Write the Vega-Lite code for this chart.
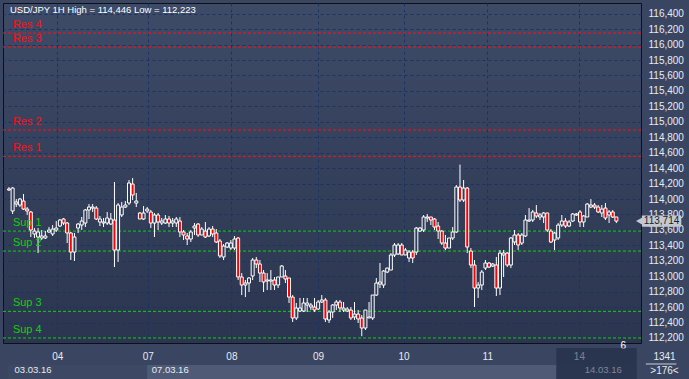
{
  "$schema": "https://vega.github.io/schema/vega-lite/v6.json",
  "width": 638,
  "height": 340,
  "autosize": "none",
  "padding": {"left": 3, "top": 3, "right": 48, "bottom": 36},
  "background": "#3a4661",
  "config": {
    "view": {
      "fill": {"gradient": "linear", "x1": 0, "y1": 0, "x2": 0, "y2": 1, "stops": [{"offset": 0, "color": "#3e4b67"}, {"offset": 1, "color": "#2b354f"}]},
      "stroke": "#0e1018",
      "strokeWidth": 1
    }
  },
  "datasets": {
    "candles": [
      {"t":0,"o":114.130,"h":114.155,"l":114.104,"c":114.117},
      {"t":1,"o":113.845,"h":114.155,"l":113.806,"c":114.142},
      {"t":2,"o":113.935,"h":114.000,"l":113.896,"c":113.961},
      {"t":3,"o":113.922,"h":114.013,"l":113.896,"c":114.000},
      {"t":4,"o":113.974,"h":114.065,"l":113.858,"c":113.870},
      {"t":5,"o":113.870,"h":113.896,"l":113.793,"c":113.845},
      {"t":6,"o":113.832,"h":113.845,"l":113.508,"c":113.598},
      {"t":7,"o":113.547,"h":113.624,"l":113.495,"c":113.585},
      {"t":8,"o":113.508,"h":113.624,"l":113.300,"c":113.573},
      {"t":9,"o":113.495,"h":113.598,"l":113.469,"c":113.521},
      {"t":10,"o":113.495,"h":113.585,"l":113.482,"c":113.521},
      {"t":11,"o":113.573,"h":113.637,"l":113.560,"c":113.598},
      {"t":12,"o":113.547,"h":113.663,"l":113.521,"c":113.611},
      {"t":13,"o":113.598,"h":113.715,"l":113.573,"c":113.624},
      {"t":14,"o":113.650,"h":113.741,"l":113.637,"c":113.728},
      {"t":15,"o":113.741,"h":113.754,"l":113.663,"c":113.689},
      {"t":16,"o":113.689,"h":113.702,"l":113.430,"c":113.560},
      {"t":17,"o":113.560,"h":113.573,"l":113.210,"c":113.313},
      {"t":18,"o":113.313,"h":113.560,"l":113.197,"c":113.508},
      {"t":19,"o":113.624,"h":113.689,"l":113.560,"c":113.676},
      {"t":20,"o":113.663,"h":113.767,"l":113.598,"c":113.715},
      {"t":21,"o":113.689,"h":113.870,"l":113.637,"c":113.858},
      {"t":22,"o":113.858,"h":113.935,"l":113.741,"c":113.896},
      {"t":23,"o":113.883,"h":113.935,"l":113.832,"c":113.896},
      {"t":24,"o":113.883,"h":113.909,"l":113.728,"c":113.741},
      {"t":25,"o":113.702,"h":113.780,"l":113.650,"c":113.741},
      {"t":26,"o":113.689,"h":113.754,"l":113.637,"c":113.702},
      {"t":27,"o":113.689,"h":113.832,"l":113.663,"c":113.754},
      {"t":28,"o":113.676,"h":113.819,"l":113.663,"c":113.741},
      {"t":29,"o":113.728,"h":114.220,"l":113.119,"c":113.339},
      {"t":30,"o":113.339,"h":113.948,"l":113.184,"c":113.922},
      {"t":31,"o":113.793,"h":113.961,"l":113.767,"c":113.896},
      {"t":32,"o":113.896,"h":113.974,"l":113.883,"c":113.922},
      {"t":33,"o":113.948,"h":114.246,"l":113.922,"c":114.207},
      {"t":34,"o":114.194,"h":114.272,"l":113.987,"c":114.052},
      {"t":35,"o":113.948,"h":114.078,"l":113.896,"c":113.974},
      {"t":36,"o":113.819,"h":113.832,"l":113.741,"c":113.741},
      {"t":37,"o":113.741,"h":113.909,"l":113.728,"c":113.819},
      {"t":38,"o":113.845,"h":113.896,"l":113.819,"c":113.870},
      {"t":39,"o":113.832,"h":113.858,"l":113.624,"c":113.689},
      {"t":40,"o":113.689,"h":113.819,"l":113.508,"c":113.793},
      {"t":41,"o":113.793,"h":113.819,"l":113.598,"c":113.702},
      {"t":42,"o":113.689,"h":113.754,"l":113.663,"c":113.715},
      {"t":43,"o":113.689,"h":113.793,"l":113.676,"c":113.741},
      {"t":44,"o":113.741,"h":113.780,"l":113.637,"c":113.689},
      {"t":45,"o":113.689,"h":113.754,"l":113.637,"c":113.715},
      {"t":46,"o":113.689,"h":113.767,"l":113.637,"c":113.741},
      {"t":47,"o":113.715,"h":113.767,"l":113.508,"c":113.573},
      {"t":48,"o":113.573,"h":113.598,"l":113.469,"c":113.534},
      {"t":49,"o":113.521,"h":113.560,"l":113.404,"c":113.482},
      {"t":50,"o":113.482,"h":113.598,"l":113.443,"c":113.573},
      {"t":51,"o":113.624,"h":113.689,"l":113.534,"c":113.650},
      {"t":52,"o":113.676,"h":113.689,"l":113.508,"c":113.534},
      {"t":53,"o":113.534,"h":113.637,"l":113.534,"c":113.611},
      {"t":54,"o":113.585,"h":113.702,"l":113.495,"c":113.508},
      {"t":55,"o":113.521,"h":113.637,"l":113.508,"c":113.611},
      {"t":56,"o":113.611,"h":113.650,"l":113.508,"c":113.547},
      {"t":57,"o":113.560,"h":113.611,"l":113.430,"c":113.443},
      {"t":58,"o":113.456,"h":113.482,"l":113.236,"c":113.262},
      {"t":59,"o":113.249,"h":113.417,"l":113.210,"c":113.391},
      {"t":60,"o":113.378,"h":113.443,"l":113.365,"c":113.430},
      {"t":61,"o":113.365,"h":113.469,"l":113.339,"c":113.430},
      {"t":62,"o":113.365,"h":113.521,"l":113.339,"c":113.482},
      {"t":63,"o":113.495,"h":113.508,"l":112.951,"c":112.990},
      {"t":64,"o":112.990,"h":113.041,"l":112.756,"c":112.886},
      {"t":65,"o":112.886,"h":112.951,"l":112.730,"c":112.912},
      {"t":66,"o":112.912,"h":112.990,"l":112.795,"c":112.977},
      {"t":67,"o":113.003,"h":113.236,"l":112.951,"c":113.210},
      {"t":68,"o":113.210,"h":113.249,"l":113.106,"c":113.158},
      {"t":69,"o":113.158,"h":113.210,"l":112.925,"c":113.041},
      {"t":70,"o":113.041,"h":113.080,"l":112.795,"c":112.925},
      {"t":71,"o":112.938,"h":113.041,"l":112.821,"c":112.951},
      {"t":72,"o":112.938,"h":113.080,"l":112.821,"c":112.951},
      {"t":73,"o":112.951,"h":112.990,"l":112.821,"c":112.886},
      {"t":74,"o":112.886,"h":112.990,"l":112.847,"c":112.990},
      {"t":75,"o":112.990,"h":113.145,"l":112.990,"c":113.132},
      {"t":76,"o":113.003,"h":113.080,"l":112.912,"c":112.964},
      {"t":77,"o":112.977,"h":112.977,"l":112.653,"c":112.730},
      {"t":78,"o":112.730,"h":112.756,"l":112.407,"c":112.459},
      {"t":79,"o":112.459,"h":112.653,"l":112.433,"c":112.588},
      {"t":80,"o":112.549,"h":112.718,"l":112.536,"c":112.588},
      {"t":81,"o":112.549,"h":112.718,"l":112.536,"c":112.653},
      {"t":82,"o":112.627,"h":112.718,"l":112.536,"c":112.653},
      {"t":83,"o":112.601,"h":112.653,"l":112.562,"c":112.627},
      {"t":84,"o":112.601,"h":112.718,"l":112.536,"c":112.562},
      {"t":85,"o":112.575,"h":112.692,"l":112.562,"c":112.666},
      {"t":86,"o":112.666,"h":112.756,"l":112.653,"c":112.692},
      {"t":87,"o":112.692,"h":112.718,"l":112.407,"c":112.446},
      {"t":88,"o":112.433,"h":112.562,"l":112.394,"c":112.536},
      {"t":89,"o":112.536,"h":112.640,"l":112.459,"c":112.627},
      {"t":90,"o":112.627,"h":112.692,"l":112.562,"c":112.666},
      {"t":91,"o":112.666,"h":112.692,"l":112.536,"c":112.588},
      {"t":92,"o":112.562,"h":112.666,"l":112.536,"c":112.588},
      {"t":93,"o":112.549,"h":112.601,"l":112.536,"c":112.575},
      {"t":94,"o":112.562,"h":112.601,"l":112.433,"c":112.459},
      {"t":95,"o":112.472,"h":112.666,"l":112.433,"c":112.510},
      {"t":96,"o":112.510,"h":112.562,"l":112.394,"c":112.446},
      {"t":97,"o":112.459,"h":112.497,"l":112.223,"c":112.329},
      {"t":98,"o":112.329,"h":112.562,"l":112.303,"c":112.562},
      {"t":99,"o":112.459,"h":112.666,"l":112.459,"c":112.472},
      {"t":100,"o":112.459,"h":112.756,"l":112.433,"c":112.756},
      {"t":101,"o":112.756,"h":112.977,"l":112.743,"c":112.912},
      {"t":102,"o":112.899,"h":113.171,"l":112.847,"c":112.925},
      {"t":103,"o":112.886,"h":113.080,"l":112.847,"c":113.067},
      {"t":104,"o":113.054,"h":113.106,"l":113.041,"c":113.106},
      {"t":105,"o":113.080,"h":113.300,"l":113.080,"c":113.275},
      {"t":106,"o":113.275,"h":113.430,"l":113.249,"c":113.404},
      {"t":107,"o":113.288,"h":113.430,"l":113.275,"c":113.404},
      {"t":108,"o":113.404,"h":113.430,"l":113.275,"c":113.275},
      {"t":109,"o":113.275,"h":113.365,"l":113.275,"c":113.339},
      {"t":110,"o":113.236,"h":113.339,"l":113.184,"c":113.313},
      {"t":111,"o":113.313,"h":113.339,"l":113.171,"c":113.236},
      {"t":112,"o":113.313,"h":113.637,"l":113.275,"c":113.624},
      {"t":113,"o":113.585,"h":113.637,"l":113.573,"c":113.624},
      {"t":114,"o":113.598,"h":113.793,"l":113.573,"c":113.767},
      {"t":115,"o":113.754,"h":113.806,"l":113.702,"c":113.767},
      {"t":116,"o":113.767,"h":113.767,"l":113.663,"c":113.728},
      {"t":117,"o":113.741,"h":113.754,"l":113.598,"c":113.637},
      {"t":118,"o":113.650,"h":113.702,"l":113.482,"c":113.585},
      {"t":119,"o":113.585,"h":113.598,"l":113.404,"c":113.430},
      {"t":120,"o":113.430,"h":113.534,"l":113.339,"c":113.365},
      {"t":121,"o":113.365,"h":113.495,"l":113.365,"c":113.495},
      {"t":122,"o":113.495,"h":113.637,"l":113.469,"c":113.573},
      {"t":123,"o":113.573,"h":114.181,"l":113.560,"c":114.155},
      {"t":124,"o":114.155,"h":114.446,"l":113.961,"c":113.987},
      {"t":125,"o":113.987,"h":114.246,"l":113.961,"c":114.142},
      {"t":126,"o":114.142,"h":114.155,"l":113.300,"c":113.378},
      {"t":127,"o":113.326,"h":113.365,"l":113.106,"c":113.145},
      {"t":128,"o":113.145,"h":113.210,"l":112.601,"c":112.847},
      {"t":129,"o":112.847,"h":112.925,"l":112.718,"c":112.886},
      {"t":130,"o":112.886,"h":113.080,"l":112.821,"c":113.054},
      {"t":131,"o":113.106,"h":113.210,"l":113.080,"c":113.171},
      {"t":132,"o":113.171,"h":113.184,"l":113.106,"c":113.119},
      {"t":133,"o":113.132,"h":113.171,"l":113.119,"c":113.158},
      {"t":134,"o":113.145,"h":113.249,"l":112.743,"c":112.847},
      {"t":135,"o":112.847,"h":113.339,"l":112.756,"c":113.300},
      {"t":136,"o":113.275,"h":113.339,"l":112.990,"c":113.300},
      {"t":137,"o":113.300,"h":113.313,"l":113.119,"c":113.145},
      {"t":138,"o":113.145,"h":113.508,"l":113.106,"c":113.495},
      {"t":139,"o":113.443,"h":113.598,"l":113.404,"c":113.534},
      {"t":140,"o":113.534,"h":113.560,"l":113.339,"c":113.404},
      {"t":141,"o":113.430,"h":113.560,"l":113.404,"c":113.534},
      {"t":142,"o":113.521,"h":113.793,"l":113.508,"c":113.728},
      {"t":143,"o":113.715,"h":113.883,"l":113.702,"c":113.728},
      {"t":144,"o":113.728,"h":113.858,"l":113.702,"c":113.832},
      {"t":145,"o":113.819,"h":113.922,"l":113.754,"c":113.780},
      {"t":146,"o":113.767,"h":113.819,"l":113.728,"c":113.793},
      {"t":147,"o":113.767,"h":113.832,"l":113.689,"c":113.819},
      {"t":148,"o":113.819,"h":113.819,"l":113.573,"c":113.598},
      {"t":149,"o":113.585,"h":113.611,"l":113.430,"c":113.443},
      {"t":150,"o":113.469,"h":113.573,"l":113.339,"c":113.560},
      {"t":151,"o":113.495,"h":113.689,"l":113.469,"c":113.663},
      {"t":152,"o":113.663,"h":113.793,"l":113.637,"c":113.715},
      {"t":153,"o":113.715,"h":113.754,"l":113.624,"c":113.650},
      {"t":154,"o":113.650,"h":113.728,"l":113.637,"c":113.702},
      {"t":155,"o":113.715,"h":113.819,"l":113.702,"c":113.806},
      {"t":156,"o":113.793,"h":113.819,"l":113.780,"c":113.806},
      {"t":157,"o":113.832,"h":113.858,"l":113.637,"c":113.702},
      {"t":158,"o":113.702,"h":113.793,"l":113.637,"c":113.780},
      {"t":159,"o":113.767,"h":113.948,"l":113.767,"c":113.935},
      {"t":160,"o":113.896,"h":114.000,"l":113.883,"c":113.922},
      {"t":161,"o":113.922,"h":113.948,"l":113.870,"c":113.896},
      {"t":162,"o":113.896,"h":113.922,"l":113.819,"c":113.832},
      {"t":163,"o":113.819,"h":113.922,"l":113.767,"c":113.870},
      {"t":164,"o":113.883,"h":113.948,"l":113.728,"c":113.754},
      {"t":165,"o":113.793,"h":113.858,"l":113.689,"c":113.832},
      {"t":166,"o":113.832,"h":113.858,"l":113.754,"c":113.767},
      {"t":167,"o":113.767,"h":113.767,"l":113.689,"c":113.714}
    ],
    "levels": [
      {"name":"Res 4","p":116.150,"k":"res"},
      {"name":"Res 3","p":115.969,"k":"res"},
      {"name":"Res 2","p":114.894,"k":"res"},
      {"name":"Res 1","p":114.553,"k":"res"},
      {"name":"Sup 1","p":113.585,"k":"sup"},
      {"name":"Sup 2","p":113.326,"k":"sup"},
      {"name":"Sup 3","p":112.545,"k":"sup"},
      {"name":"Sup 4","p":112.200,"k":"sup"}
    ]
  },
  "layer": [
    {
      "data": {"values": [{}]},
      "mark": {"type": "rect", "color": "#3d4964"},
      "encoding": {
        "x": {"datum": -0.27, "type": "quantitative"},
        "x2": {"datum": 172.4},
        "y": {"datum": 111.850, "type": "quantitative"},
        "y2": {"datum": 111.668}
      }
    },
    {
      "data": {"values": [{}]},
      "mark": {"type": "rect", "color": "#4f5b76"},
      "encoding": {
        "x": {"datum": 38.0, "type": "quantitative"},
        "x2": {"datum": 150.5},
        "y": {"datum": 111.850, "type": "quantitative"},
        "y2": {"datum": 111.668}
      }
    },
    {
      "data": {"name": "levels"},
      "mark": {"type": "rule", "strokeDash": [3, 2], "strokeWidth": 1},
      "encoding": {
        "y": {"field": "p", "type": "quantitative"},
        "color": {"field": "k", "type": "nominal", "scale": {"domain": ["res", "sup"], "range": ["#ff1010", "#10d010"]}, "legend": null}
      }
    },
    {
      "data": {"name": "candles"},
      "mark": {"type": "rule", "color": "#ffffff", "strokeWidth": 1},
      "encoding": {
        "x": {
          "field": "t", "type": "quantitative",
          "scale": {"domain": [-0.27, 172.4], "nice": false, "zero": false},
          "axis": {
            "title": null, "zindex": 0,
            "values": [13.26, 38.16, 61.16, 84.98, 108.5, 131.5, 156.7],
            "tickCount": 40,
            "labelExpr": "datum.value < 20 ? '04' : datum.value < 50 ? '07' : datum.value < 70 ? '08' : datum.value < 95 ? '09' : datum.value < 120 ? '10' : datum.value < 140 ? '11' : '14'",
            "grid": true, "gridColor": "#1a3264", "gridDash": [3, 3], "gridWidth": 1,
            "domain": false, "ticks": false, "labelOverlap": false,
            "labelColor": "#e8ebf0", "labelFont": "Liberation Sans", "labelFontSize": 10,
            "labelPadding": 8, "labelAngle": 0
          }
        },
        "y": {
          "field": "l", "type": "quantitative",
          "scale": {"domain": [112.135, 116.539], "nice": false, "zero": false},
          "axis": {
            "title": null, "orient": "right", "zindex": 0,
            "values": [112.2, 112.4, 112.6, 112.8, 113.0, 113.2, 113.4, 113.6, 113.8, 114.0, 114.2, 114.4, 114.6, 114.8, 115.0, 115.2, 115.4, 115.6, 115.8, 116.0, 116.2, 116.4],
            "tickCount": 40,
            "labelExpr": "replace(format(datum.value, '.3f'), '.', ',')",
            "grid": true, "gridColor": "#1a3264", "gridDash": [3, 3], "gridWidth": 1,
            "domain": false, "ticks": false, "labelOverlap": false,
            "labelColor": "#e8ebf0", "labelFont": "Liberation Sans", "labelFontSize": 10,
            "labelPadding": 7
          }
        },
        "y2": {"field": "h"}
      }
    },
    {
      "data": {"name": "candles"},
      "mark": {"type": "bar", "size": 3, "stroke": "#ffffff", "strokeWidth": 1},
      "encoding": {
        "x": {"field": "t", "type": "quantitative"},
        "y": {"field": "o", "type": "quantitative"},
        "y2": {"field": "c"},
        "fill": {"condition": {"test": "datum.c < datum.o", "value": "#ff0000"}, "value": "#313d58"}
      }
    },
    {
      "data": {"name": "levels"},
      "mark": {"type": "text", "align": "left", "baseline": "bottom", "dy": -3, "font": "Liberation Sans", "fontSize": 11},
      "encoding": {
        "x": {"datum": 1.08, "type": "quantitative"},
        "y": {"field": "p", "type": "quantitative"},
        "text": {"field": "name"},
        "color": {"field": "k", "type": "nominal", "legend": null}
      }
    },
    {
      "data": {"values": [{"txt": "USD/JPY 1H High = 114,446 Low = 112,223"}]},
      "mark": {"type": "text", "align": "left", "baseline": "middle", "color": "#ffffff", "font": "Liberation Sans", "fontSize": 9.5},
      "encoding": {
        "x": {"datum": 0.27, "type": "quantitative"},
        "y": {"datum": 116.448, "type": "quantitative"},
        "text": {"field": "txt"}
      }
    },
    {
      "data": {"values": [{"txt": "6"}]},
      "mark": {"type": "text", "align": "center", "baseline": "middle", "color": "#ffffff", "font": "Liberation Sans", "fontSize": 10},
      "encoding": {
        "x": {"datum": 168.9, "type": "quantitative"},
        "y": {"datum": 112.096, "type": "quantitative"},
        "text": {"field": "txt"}
      }
    },
    {
      "data": {"values": [{"txt": "03.03.16", "n": 1.54}, {"txt": "07.03.16", "n": 39.24}]},
      "mark": {"type": "text", "align": "left", "baseline": "middle", "color": "#e8ebf0", "font": "Liberation Sans", "fontSize": 9.5},
      "encoding": {
        "x": {"field": "n", "type": "quantitative"},
        "y": {"datum": 111.785, "type": "quantitative"},
        "text": {"field": "txt"}
      }
    },
    {
      "data": {"values": [{}]},
      "mark": {"type": "rect", "color": "#1c2640", "opacity": 0.55},
      "encoding": {
        "x": {"datum": 150.5, "type": "quantitative"},
        "x2": {"datum": 172.6},
        "y": {"datum": 112.07, "type": "quantitative"},
        "y2": {"datum": 111.668}
      }
    },
    {
      "data": {"values": [{"txt": "14.03.16"}]},
      "mark": {"type": "text", "align": "left", "baseline": "middle", "color": "#7d879b", "font": "Liberation Sans", "fontSize": 9.5},
      "encoding": {
        "x": {"datum": 158.3, "type": "quantitative"},
        "y": {"datum": 111.785, "type": "quantitative"},
        "text": {"field": "txt"}
      }
    },
    {
      "data": {"values": [{"txt": "1341", "yy": 111.953}, {"txt": ">176<", "yy": 111.772}]},
      "mark": {"type": "text", "align": "center", "baseline": "middle", "color": "#e8ebf0", "font": "Liberation Sans", "fontSize": 10},
      "encoding": {
        "x": {"datum": 180.24, "type": "quantitative"},
        "y": {"field": "yy", "type": "quantitative"},
        "text": {"field": "txt"}
      }
    },
    {
      "data": {"values": [{}]},
      "mark": {"type": "rule", "color": "#c9cdd6", "strokeWidth": 1},
      "encoding": {
        "x": {"datum": 175.1, "type": "quantitative"},
        "x2": {"datum": 183.5},
        "y": {"datum": 111.863, "type": "quantitative"}
      }
    },
    {
      "data": {"values": [{}]},
      "mark": {"type": "rect", "color": "#c4c8d0"},
      "encoding": {
        "x": {"datum": 174.0, "type": "quantitative"},
        "x2": {"datum": 184.85},
        "y": {"datum": 113.786, "type": "quantitative"},
        "y2": {"datum": 113.642}
      }
    },
    {
      "data": {"values": [{}]},
      "mark": {"type": "point", "shape": "triangle-left", "filled": true, "color": "#c4c8d0", "size": 70, "opacity": 1},
      "encoding": {
        "x": {"datum": 173.4, "type": "quantitative"},
        "y": {"datum": 113.714, "type": "quantitative"}
      }
    },
    {
      "data": {"values": [{"txt": "113,714"}]},
      "mark": {"type": "text", "align": "center", "baseline": "middle", "color": "#1a1f2a", "font": "Liberation Sans", "fontSize": 10},
      "encoding": {
        "x": {"datum": 179.43, "type": "quantitative"},
        "y": {"datum": 113.714, "type": "quantitative"},
        "text": {"field": "txt"}
      }
    }
  ]
}
